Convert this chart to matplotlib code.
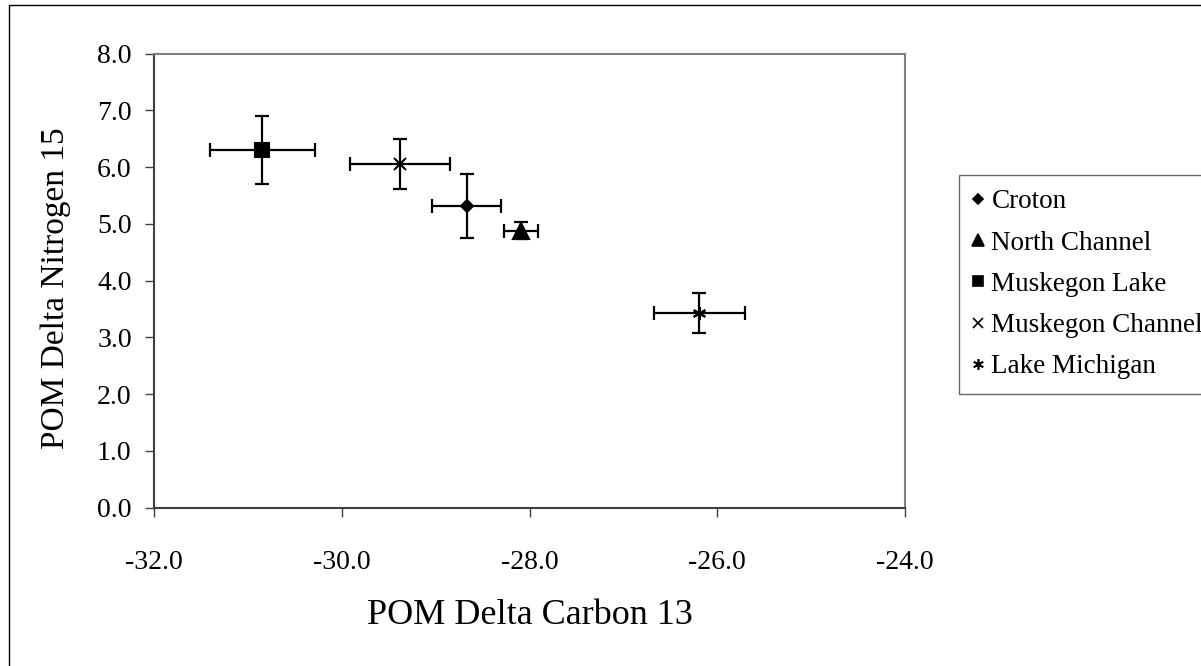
import matplotlib
matplotlib.use("Agg")
import matplotlib.pyplot as plt
from matplotlib.lines import Line2D
from matplotlib.patches import Rectangle

# site means and standard deviations
sites = ['Croton', 'North Channel', 'Muskegon Lake', 'Muskegon Channel', 'Lake Michigan']
carbon13 = [-28.67, -28.09, -30.85, -29.38, -26.19]
carbon13_err = [0.37, 0.18, 0.56, 0.53, 0.48]
nitrogen15 = [5.32, 4.88, 6.30, 6.06, 3.43]
nitrogen15_err = [0.56, 0.15, 0.60, 0.44, 0.35]
markers = ['D', '^', 's', 'x', (6, 2, 0)]
marker_sizes = [6.3, 11, 9.4, 9, 9.5]

x_ticks = [-32.0, -30.0, -28.0, -26.0, -24.0]
y_ticks = [0.0, 1.0, 2.0, 3.0, 4.0, 5.0, 6.0, 7.0, 8.0]

plt.rcParams['font.family'] = ['Liberation Serif', 'DejaVu Serif']

fig = plt.figure(figsize=(12.01, 6.66), dpi=100)
ax = fig.add_axes([0.1285, 0.2377, 0.625, 0.6817])

# frame round the whole chart
fig.patches.append(Rectangle((0.0075, -0.05), 1.2, 1.042, transform=fig.transFigure,
                             fill=False, edgecolor='black', linewidth=1.0))

handles = []
for i in range(len(sites)):
    ax.errorbar(carbon13[i], nitrogen15[i], xerr=carbon13_err[i], yerr=nitrogen15_err[i],
                fmt='none', ecolor='black', elinewidth=1.6, capsize=5.3, capthick=1.6)
    ax.plot(carbon13[i], nitrogen15[i], linestyle='none', marker=markers[i],
            markersize=marker_sizes[i], color='black', markeredgewidth=1.5, zorder=5)
    handles.append(Line2D([], [], linestyle='none', marker=markers[i],
                          markersize=marker_sizes[i] * 0.82, color='black', markeredgewidth=1.2))

ax.set_xlim(-32, -24)
ax.set_ylim(0, 8)
ax.set_xticks(x_ticks)
ax.set_yticks(y_ticks)
ax.set_xticklabels(['%.1f' % v for v in x_ticks])
ax.set_yticklabels(['%.1f' % v for v in y_ticks])
ax.tick_params(axis='both', direction='out', length=6.3, width=1.0, color='#404040', labelsize=20)
ax.tick_params(axis='y', pad=10)
ax.tick_params(axis='x', pad=24)

for side in ['left', 'bottom']:
    ax.spines[side].set_color('#404040')
    ax.spines[side].set_linewidth(1.5)
for side in ['top', 'right']:
    ax.spines[side].set_color('#808080')
    ax.spines[side].set_linewidth(1.5)

ax.set_xlabel('POM Delta Carbon 13', fontsize=26, va='center')
ax.xaxis.set_label_coords(0.5, -0.237)
ax.set_ylabel('POM Delta Nitrogen 15', fontsize=24, va='center')
ax.yaxis.set_label_coords(-0.131, 0.484)

leg = fig.legend(handles, sites, loc='upper left', bbox_to_anchor=(959.5 / 1201, 1 - 175 / 666),
                 fontsize=19.5, frameon=True, fancybox=False, edgecolor='#404040',
                 handlelength=0.3, handletextpad=0.35, labelspacing=0.6,
                 borderpad=0.53, borderaxespad=0)
leg.get_frame().set_linewidth(1.0)

fig.savefig('out.png', dpi=100)
